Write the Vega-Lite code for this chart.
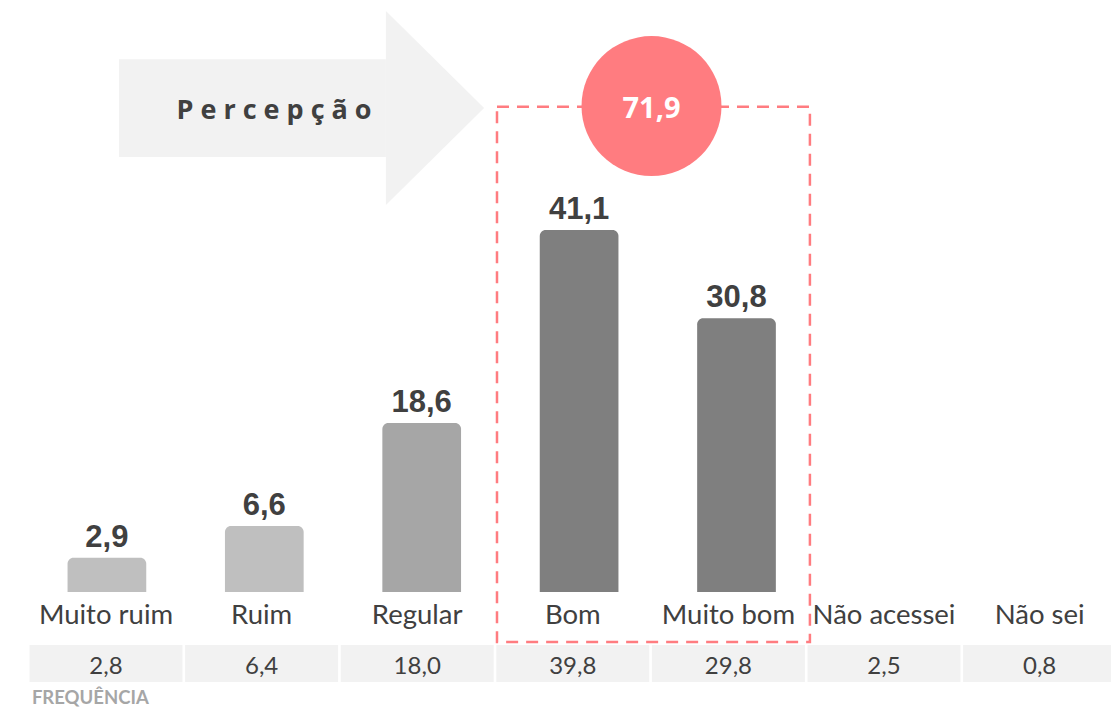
{
  "$schema": "https://vega.github.io/schema/vega-lite/v6.json",
  "width": 1111,
  "height": 707,
  "autosize": {"type": "none"},
  "padding": 0,
  "background": "white",
  "config": {
    "view": {"stroke": null},
    "locale": {"number": {"decimal": ",", "thousands": ".", "grouping": [3], "currency": ["R$ ", ""]}}
  },
  "datasets": {
    "respostas": [
      {"categoria": "Muito ruim", "percepcao": 2.9, "frequencia": 2.8},
      {"categoria": "Ruim", "percepcao": 6.6, "frequencia": 6.4},
      {"categoria": "Regular", "percepcao": 18.6, "frequencia": 18.0},
      {"categoria": "Bom", "percepcao": 41.1, "frequencia": 39.8},
      {"categoria": "Muito bom", "percepcao": 30.8, "frequencia": 29.8},
      {"categoria": "Não acessei", "percepcao": null, "frequencia": 2.5},
      {"categoria": "Não sei", "percepcao": null, "frequencia": 0.8}
    ],
    "seta_haste": [{"x_ini": 0.584, "x_fim": 2.299, "y_base": 49.6, "y_topo": 61.0}],
    "seta_ponta": [
      {"x": 2.299, "y_base": 44.0, "y_topo": 66.62},
      {"x": 2.93, "y_base": 55.31, "y_topo": 55.31}
    ],
    "destaque": [{"grupo": "Bom + Muito bom", "total": 71.9, "x_ini": 3.013, "x_fim": 5.024, "y_base": -6.93, "y_topo": 55.46}]
  },
  "resolve": {"scale": {"x": "independent"}},
  "layer": [
    {
      "data": {"name": "seta_haste"},
      "mark": {"type": "rect", "color": "#f2f2f2"},
      "encoding": {
        "x": {"field": "x_ini", "type": "quantitative", "axis": null, "scale": {"domain": [-0.181, 6.959], "nice": false, "zero": false}},
        "x2": {"field": "x_fim"},
        "y": {"field": "y_base", "type": "quantitative", "axis": null, "scale": {"domain": [-14.5, 67.9], "nice": false, "zero": false}},
        "y2": {"field": "y_topo"}
      }
    },
    {
      "data": {"name": "seta_ponta"},
      "mark": {"type": "area", "orient": "vertical", "color": "#f2f2f2"},
      "encoding": {
        "x": {"field": "x", "type": "quantitative", "axis": null, "scale": {"domain": [-0.181, 6.959], "nice": false, "zero": false}},
        "y": {"field": "y_base", "type": "quantitative", "axis": null, "scale": {"domain": [-14.5, 67.9], "nice": false, "zero": false}},
        "y2": {"field": "y_topo"}
      }
    },
    {
      "data": {"name": "destaque"},
      "mark": {"type": "rect", "fill": null, "fillOpacity": 0, "stroke": "#ff7c80", "strokeWidth": 2.5, "strokeDash": [12, 8]},
      "encoding": {
        "x": {"field": "x_ini", "type": "quantitative", "axis": null, "scale": {"domain": [-0.181, 6.959], "nice": false, "zero": false}},
        "x2": {"field": "x_fim"},
        "y": {"field": "y_base", "type": "quantitative", "axis": null, "scale": {"domain": [-14.5, 67.9], "nice": false, "zero": false}},
        "y2": {"field": "y_topo"}
      }
    },
    {
      "data": {"name": "respostas"},
      "transform": [{"filter": "datum.percepcao != null"}],
      "mark": {"type": "bar", "width": {"band": 0.5}, "cornerRadiusTopLeft": 6, "cornerRadiusTopRight": 6},
      "encoding": {
        "x": {"field": "categoria", "type": "nominal", "sort": null, "axis": null,
              "scale": {"type": "band", "domain": ["Muito ruim", "Ruim", "Regular", "Bom", "Muito bom", "Não acessei", "Não sei"], "range": [28.2, 1130], "paddingInner": 0, "paddingOuter": 0}},
        "y": {"field": "percepcao", "type": "quantitative", "axis": null, "scale": {"domain": [-14.5, 67.9], "nice": false, "zero": false}},
        "y2": {"datum": -1.1},
        "color": {"field": "categoria", "type": "nominal", "legend": null,
                  "scale": {"domain": ["Muito ruim", "Ruim", "Regular", "Bom", "Muito bom"], "range": ["#bfbfbf", "#bfbfbf", "#a6a6a6", "#7f7f7f", "#7f7f7f"]}}
      }
    },
    {
      "data": {"name": "respostas"},
      "transform": [{"filter": "datum.percepcao != null"}],
      "mark": {"type": "text", "baseline": "alphabetic", "align": "center", "dy": -11, "font": "Liberation Sans", "fontWeight": "bold", "fontSize": 31, "fill": "#404040"},
      "encoding": {
        "x": {"field": "categoria", "type": "nominal", "sort": null, "axis": null,
              "scale": {"type": "band", "domain": ["Muito ruim", "Ruim", "Regular", "Bom", "Muito bom", "Não acessei", "Não sei"], "range": [28.2, 1130], "paddingInner": 0, "paddingOuter": 0}},
        "y": {"field": "percepcao", "type": "quantitative", "axis": null, "scale": {"domain": [-14.5, 67.9], "nice": false, "zero": false}},
        "text": {"field": "percepcao", "type": "quantitative", "format": ".1f"}
      }
    },
    {
      "data": {"name": "respostas"},
      "mark": {"type": "rect", "color": "#f2f2f2"},
      "encoding": {
        "x": {"field": "categoria", "type": "nominal", "sort": null, "axis": null,
              "scale": {"type": "band", "domain": ["Muito ruim", "Ruim", "Regular", "Bom", "Muito bom", "Não acessei", "Não sei"], "range": [28.2, 1117.4], "paddingInner": 0.017, "paddingOuter": 0.0085}},
        "y": {"datum": -7.28, "type": "quantitative", "axis": null, "scale": {"domain": [-14.5, 67.9], "nice": false, "zero": false}},
        "y2": {"datum": -11.59}
      }
    },
    {
      "data": {"name": "respostas"},
      "mark": {"type": "text", "baseline": "alphabetic", "align": "center", "font": "Lato", "fontSize": 24, "fill": "#404040"},
      "encoding": {
        "x": {"field": "categoria", "type": "nominal", "sort": null, "axis": null,
              "scale": {"type": "band", "domain": ["Muito ruim", "Ruim", "Regular", "Bom", "Muito bom", "Não acessei", "Não sei"], "range": [28.2, 1117.4], "paddingInner": 0.017, "paddingOuter": 0.0085}},
        "y": {"datum": -10.66, "type": "quantitative", "axis": null, "scale": {"domain": [-14.5, 67.9], "nice": false, "zero": false}},
        "text": {"field": "frequencia", "type": "quantitative", "format": ".1f"}
      }
    },
    {
      "data": {"name": "respostas"},
      "mark": {"type": "text", "baseline": "alphabetic", "align": "center", "font": "Lato", "fontSize": 27.5, "fill": "#404040"},
      "encoding": {
        "x": {"field": "categoria", "type": "nominal", "sort": null, "axis": null,
              "scale": {"type": "band", "domain": ["Muito ruim", "Ruim", "Regular", "Bom", "Muito bom", "Não acessei", "Não sei"], "range": [28.2, 1117.4], "paddingInner": 0.017, "paddingOuter": 0.0085}},
        "y": {"datum": -4.83, "type": "quantitative", "axis": null, "scale": {"domain": [-14.5, 67.9], "nice": false, "zero": false}},
        "text": {"field": "categoria", "type": "nominal"}
      }
    },
    {
      "data": {"values": [{"texto": "FREQUÊNCIA"}]},
      "mark": {"type": "text", "baseline": "alphabetic", "align": "left", "font": "Lato", "fontWeight": "bold", "fontSize": 18.5, "fill": "#a6a6a6"},
      "encoding": {
        "x": {"datum": 0.024, "type": "quantitative", "axis": null, "scale": {"domain": [-0.181, 6.959], "nice": false, "zero": false}},
        "y": {"datum": -14.1, "type": "quantitative", "axis": null, "scale": {"domain": [-14.5, 67.9], "nice": false, "zero": false}},
        "text": {"field": "texto", "type": "nominal"}
      }
    },
    {
      "data": {"name": "destaque"},
      "mark": {"type": "point", "shape": "circle", "filled": true, "size": 19600, "color": "#ff7c80", "opacity": 1},
      "encoding": {
        "x": {"datum": 4.006, "type": "quantitative", "axis": null, "scale": {"domain": [-0.181, 6.959], "nice": false, "zero": false}},
        "y": {"datum": 55.54, "type": "quantitative", "axis": null, "scale": {"domain": [-14.5, 67.9], "nice": false, "zero": false}}
      }
    },
    {
      "data": {"name": "destaque"},
      "mark": {"type": "text", "baseline": "alphabetic", "align": "center", "font": "Open Sans", "fontWeight": "bold", "fontSize": 29, "fill": "#ffffff"},
      "encoding": {
        "x": {"datum": 4.006, "type": "quantitative", "axis": null, "scale": {"domain": [-0.181, 6.959], "nice": false, "zero": false}},
        "y": {"datum": 54.2, "type": "quantitative", "axis": null, "scale": {"domain": [-14.5, 67.9], "nice": false, "zero": false}},
        "text": {"field": "total", "type": "quantitative", "format": ".1f"}
      }
    },
    {
      "data": {"values": [{"texto": "P e r c e p ç ã o"}]},
      "mark": {"type": "text", "baseline": "alphabetic", "align": "center", "font": "Open Sans", "fontWeight": "bold", "fontSize": 27, "fill": "#404040"},
      "encoding": {
        "x": {"datum": 1.58, "type": "quantitative", "axis": null, "scale": {"domain": [-0.181, 6.959], "nice": false, "zero": false}},
        "y": {"datum": 54.0, "type": "quantitative", "axis": null, "scale": {"domain": [-14.5, 67.9], "nice": false, "zero": false}},
        "text": {"field": "texto", "type": "nominal"}
      }
    }
  ]
}
